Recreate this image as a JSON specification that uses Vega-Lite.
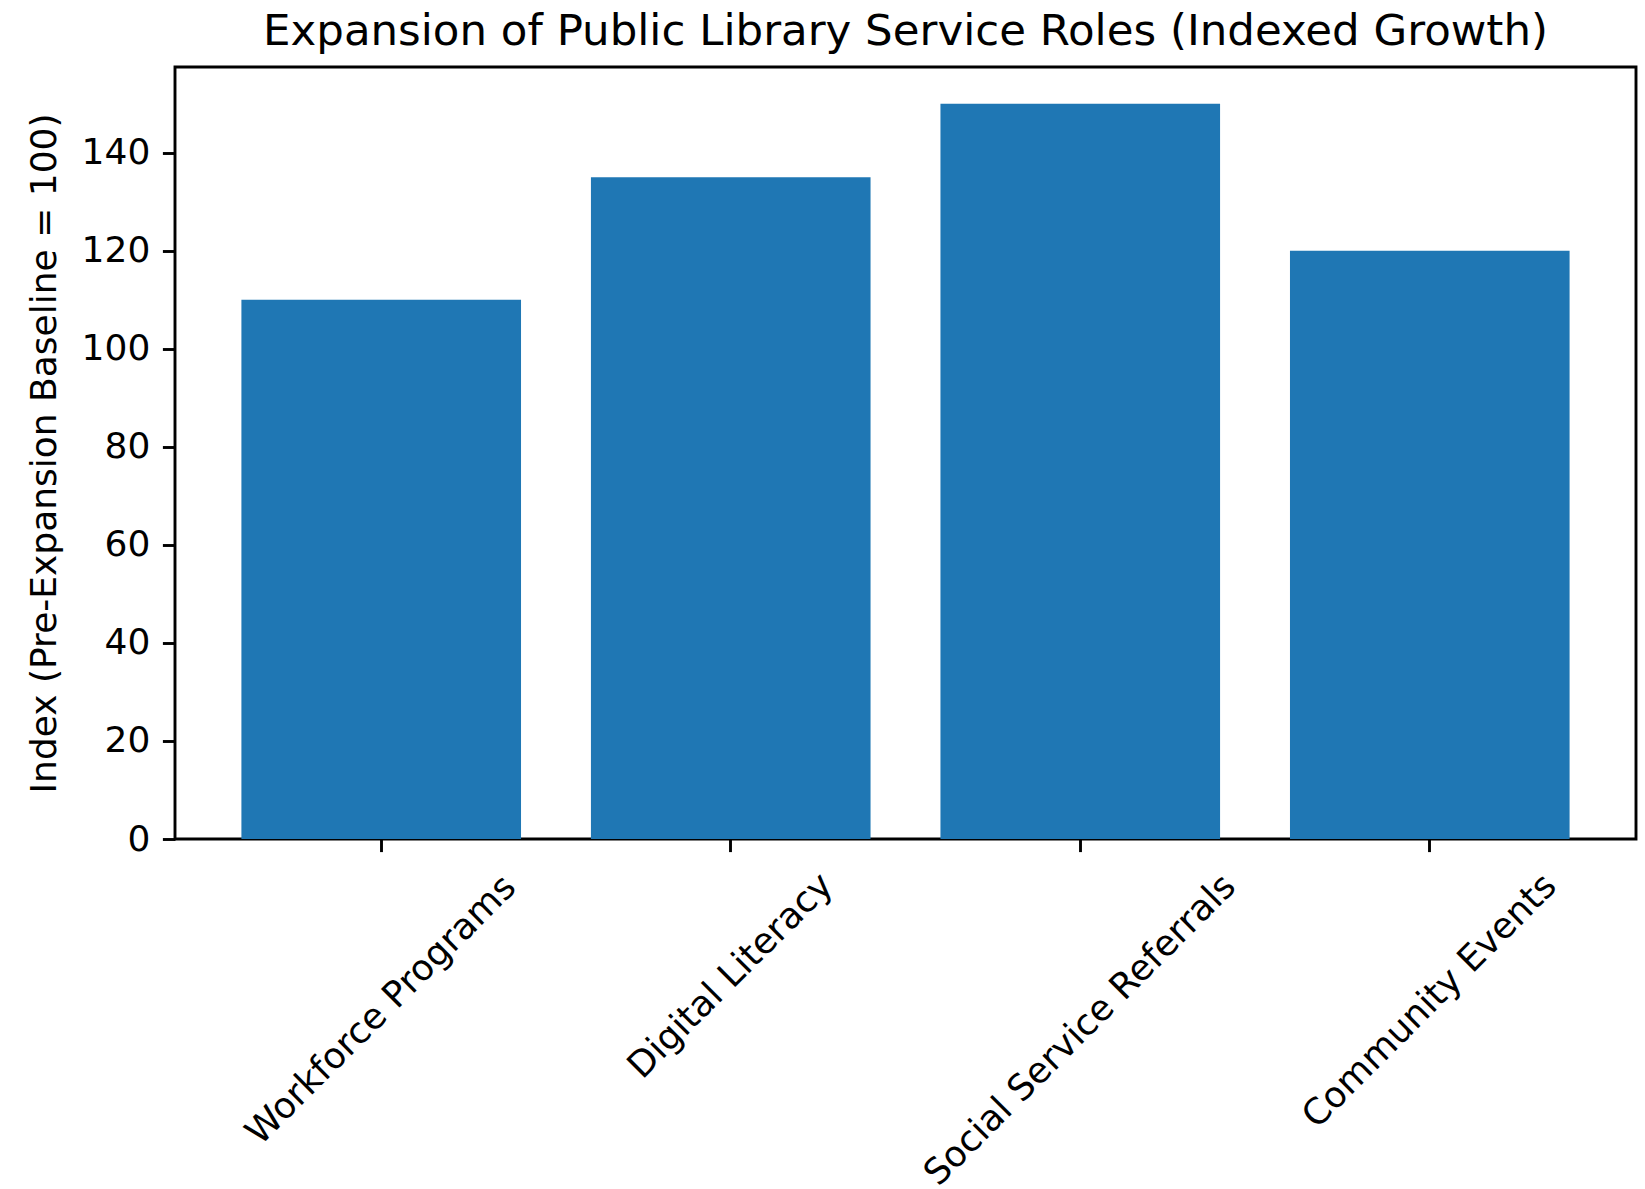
{
  "$schema": "https://vega.github.io/schema/vega-lite/v6.json",
  "width": 1461,
  "height": 772,
  "autosize": {"type": "none"},
  "padding": {"left": 175, "top": 67, "right": 9, "bottom": 350},
  "background": "white",
  "config": {
    "view": {"stroke": "#000000", "strokeWidth": 2.9},
    "font": "DejaVu Sans"
  },
  "title": {
    "text": "Expansion of Public Library Service Roles (Indexed Growth)",
    "font": "DejaVu Sans",
    "fontSize": 43.5,
    "fontWeight": "normal",
    "color": "#000000",
    "anchor": "middle",
    "frame": "group",
    "baseline": "alphabetic",
    "offset": 22,
    "dy": 43.5
  },
  "data": {
    "values": [
      {"role": "Workforce Programs", "index": 110},
      {"role": "Digital Literacy", "index": 135},
      {"role": "Social Service Referrals", "index": 150},
      {"role": "Community Events", "index": 120}
    ]
  },
  "mark": {"type": "bar", "color": "#1f77b4"},
  "encoding": {
    "x": {
      "field": "role",
      "type": "nominal",
      "sort": null,
      "scale": {"paddingInner": 0.2, "paddingOuter": 0.19},
      "axis": {
        "title": null,
        "domain": false,
        "labelAngle": -45,
        "labelAlign": "center",
        "labelBaseline": "middle",
        "labelFont": "DejaVu Sans",
        "labelFontSize": 36,
        "labelColor": "#000000",
        "labelLimit": 0,
        "labelOverlap": false,
        "tickSize": 12.6,
        "tickWidth": 2.9,
        "tickColor": "#000000",
        "labelPadding": {
          "condition": [
            {"test": "datum.value === 'Workforce Programs'", "value": 158},
            {"test": "datum.value === 'Digital Literacy'", "value": 124},
            {"test": "datum.value === 'Social Service Referrals'", "value": 178}
          ],
          "value": 149
        }
      }
    },
    "y": {
      "field": "index",
      "type": "quantitative",
      "scale": {"domain": [0, 157.5], "nice": false, "zero": true},
      "axis": {
        "title": "Index (Pre-Expansion Baseline = 100)",
        "titleFont": "DejaVu Sans",
        "titleFontSize": 36,
        "titleFontWeight": "normal",
        "titleColor": "#000000",
        "titleAngle": -90,
        "titleAlign": "center",
        "titleBaseline": "middle",
        "titleX": -131,
        "titleY": 386,
        "values": [0, 20, 40, 60, 80, 100, 120, 140],
        "grid": false,
        "domain": false,
        "labelFont": "DejaVu Sans",
        "labelFontSize": 36,
        "labelColor": "#000000",
        "labelPadding": 12.6,
        "tickSize": 12.6,
        "tickWidth": 2.9,
        "tickColor": "#000000"
      }
    }
  }
}
